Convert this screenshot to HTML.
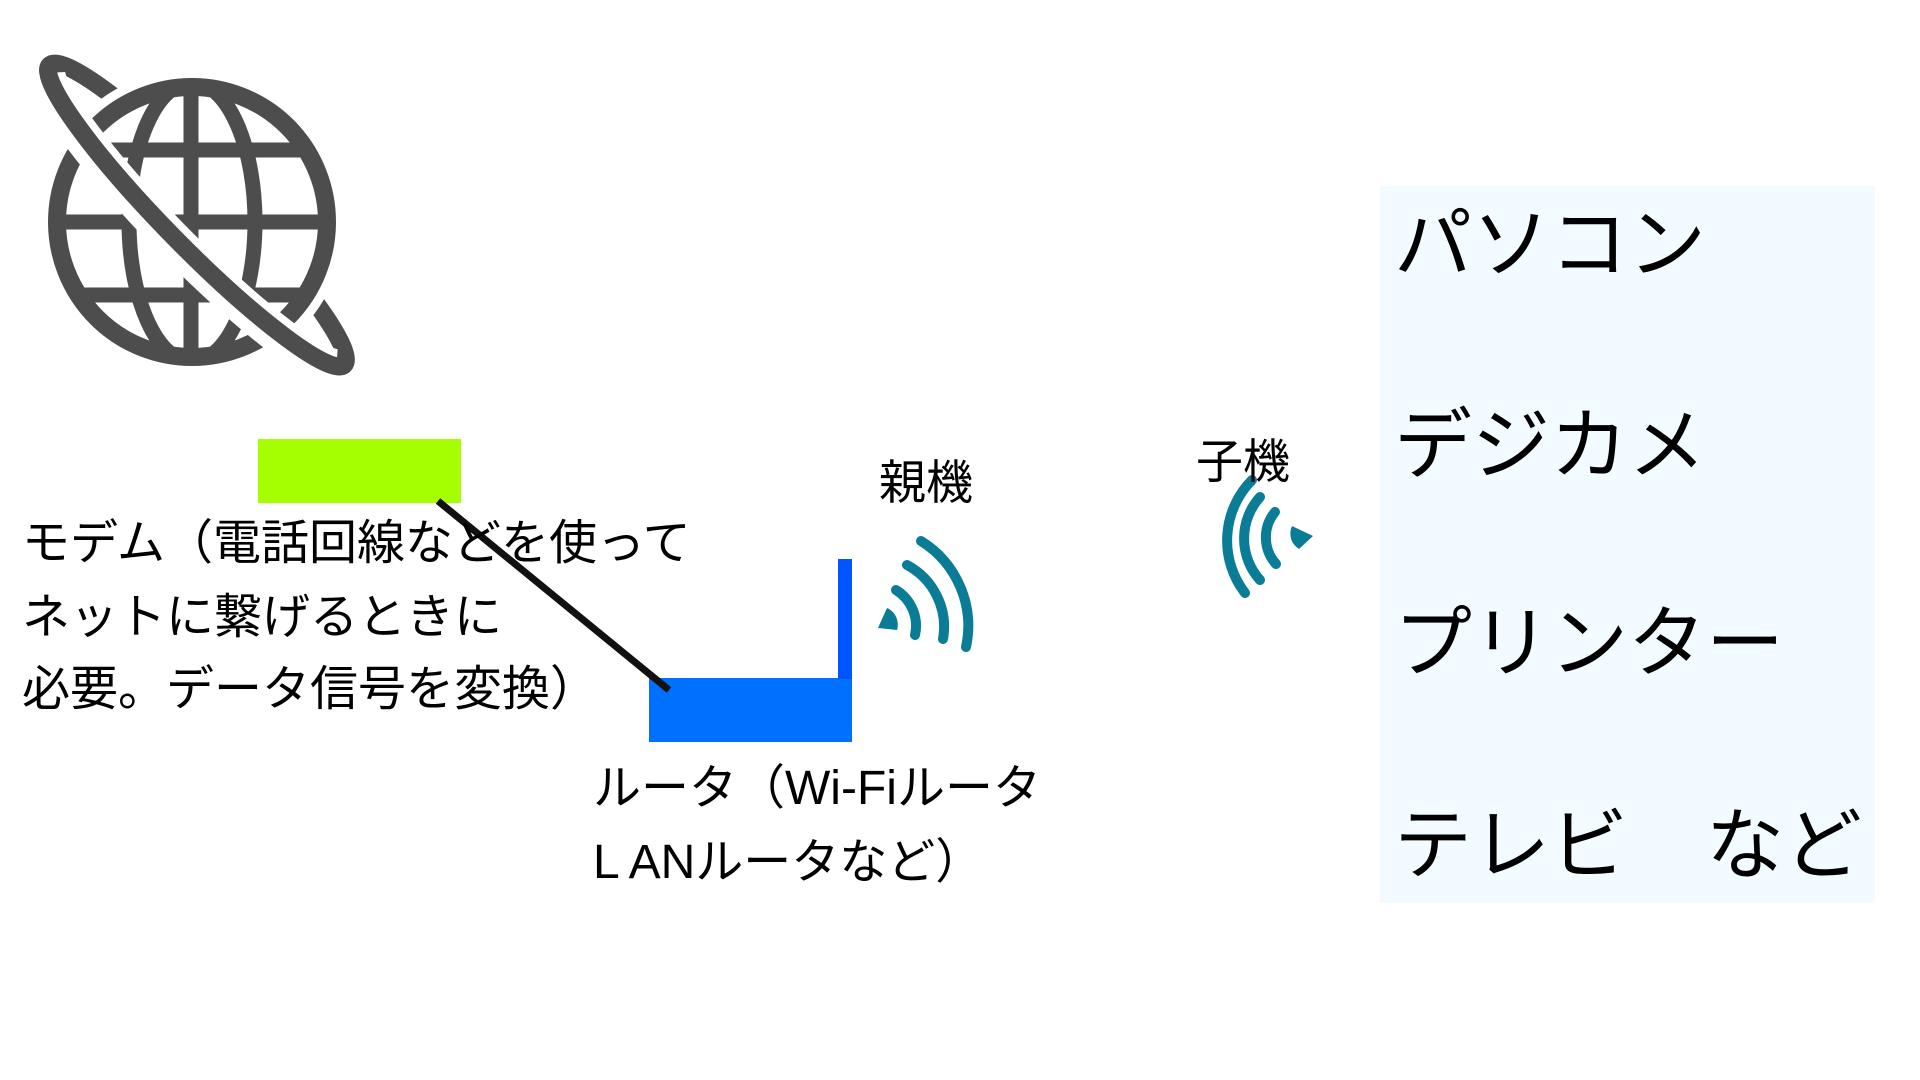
<!DOCTYPE html>
<html><head><meta charset="utf-8"><style>
html,body{margin:0;padding:0;background:#fff;width:1920px;height:1080px;overflow:hidden;position:relative;font-family:"Liberation Sans","Noto Sans CJK JP",sans-serif;color:#000}
.t{position:absolute;white-space:nowrap;line-height:1}
</style></head><body>
<div style="position:absolute;left:1380px;top:186px;width:495px;height:717px;background:#f2fbff"></div>
<svg width="1920" height="1080" style="position:absolute;left:0;top:0">
 <defs><clipPath id="c"><circle cx="192" cy="222" r="135"/></clipPath></defs>
 <g transform="translate(197 215) rotate(45.5)">
  <ellipse cx="0" cy="0" rx="210" ry="32" fill="none" stroke="#4d4d4d" stroke-width="18"/>
 </g>
 <circle cx="192" cy="222" r="153" fill="#fff"/>
 <g stroke="#4d4d4d" stroke-width="15" fill="none">
  <circle cx="192" cy="222" r="135" stroke-width="18"/>
  <g clip-path="url(#c)">
   <ellipse cx="192" cy="222" rx="63" ry="140"/>
   <line x1="191" y1="70" x2="191" y2="370"/>
   <line x1="40" y1="222" x2="350" y2="222"/>
   <line x1="40" y1="150" x2="350" y2="150"/>
   <line x1="40" y1="295" x2="350" y2="295"/>
  </g>
 </g>
 <g transform="translate(197 215) rotate(45.5)">
  <path d="M-207 8 A210 32 0 0 0 207 8" fill="none" stroke="#fff" stroke-width="38"/>
  <path d="M-210 0 A210 32 0 0 0 210 0" fill="none" stroke="#4d4d4d" stroke-width="18"/>
 </g>
 <rect x="258" y="439" width="203" height="64" fill="#a6ff00"/>
 <rect x="649" y="678" width="203" height="64" fill="#0070ff"/>
 <rect x="838" y="559" width="14" height="120" fill="#0055ff"/>
 <line x1="438" y1="501" x2="669" y2="690" stroke="#111" stroke-width="7"/>
 <g stroke="#0a7c96" stroke-width="10" fill="none" stroke-linecap="round">
  <path d="M896 590 A42 42 0 0 1 915 635"/>
  <path d="M907 565 A70 70 0 0 1 943 639"/>
  <path d="M921 541 A100 100 0 0 1 966 647"/>
  <g transform="translate(-10 0)">
  <path d="M1255 593 A86 86 0 0 1 1262 480"/>
  <path d="M1270 580 A62 62 0 0 1 1270 497"/>
  <path d="M1286 564 A40 40 0 0 1 1285 512"/>
  </g>
 </g>
 <path d="M878 628 L887 608 A18 18 0 0 1 897 630 Z" fill="#0a7c96"/>
 <path d="M1313 536 L1292 526 A18 18 0 0 0 1299 549 Z" fill="#0a7c96"/>
</svg>
<div class="t" style="left:22px;top:520px;font-size:48px">モデム（電話回線などを使って</div>
<div class="t" style="left:22px;top:594px;font-size:48px">ネットに繋げるときに</div>
<div class="t" style="left:22px;top:666px;font-size:48px">必要。データ信号を変換）</div>
<div class="t" style="left:593px;top:765px;font-size:48px">ルータ（Wi-Fiルータ</div>
<div class="t" style="left:593px;top:839px;font-size:48px">L ANルータなど）</div>
<div class="t" style="left:879px;top:459px;font-size:47px">親機</div>
<div class="t" style="left:1196px;top:438px;font-size:47px">子機</div>
<div class="t" style="left:1394px;top:205px;font-size:78px">パソコン</div>
<div class="t" style="left:1394px;top:406px;font-size:78px">デジカメ</div>
<div class="t" style="left:1394px;top:604px;font-size:78px">プリンター</div>
<div class="t" style="left:1394px;top:806px;font-size:78px">テレビ　など</div>
</body></html>
